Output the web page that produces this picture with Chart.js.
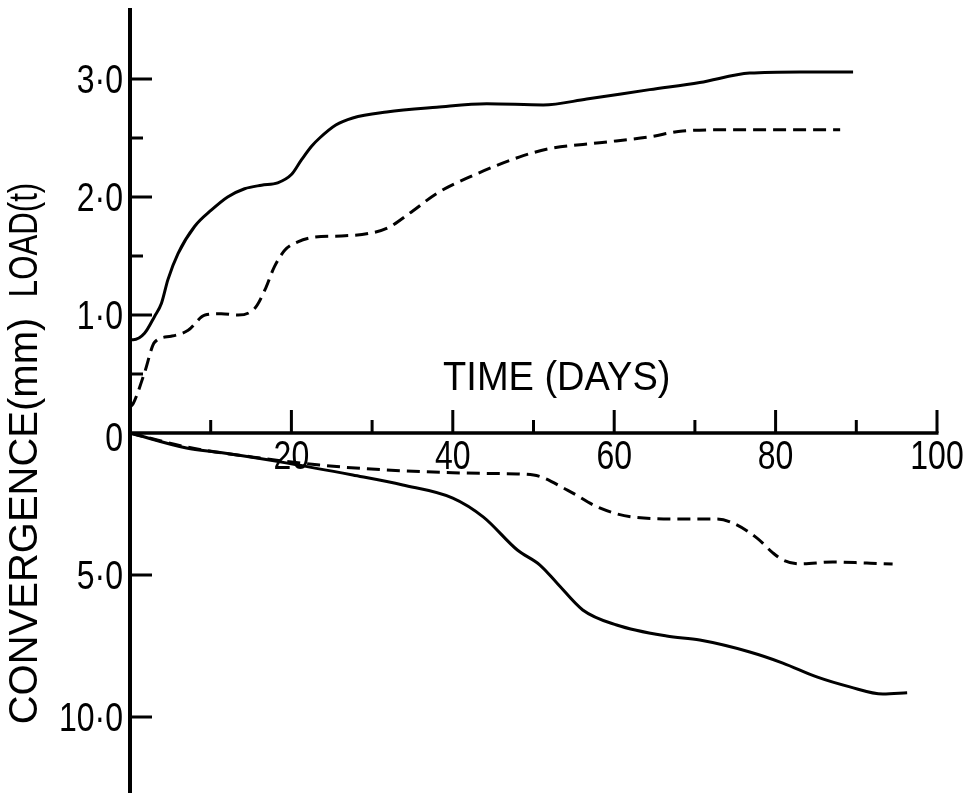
<!DOCTYPE html>
<html>
<head>
<meta charset="utf-8">
<script src="https://cdn.jsdelivr.net/npm/chart.js@4"></script>
<style>
html,body{margin:0;padding:0;background:#fff;}
canvas{display:block;}
</style>
</head>
<body>
<canvas id="c" width="971" height="793"></canvas>
<script>
// ---- data ----
const loadSolidDays = [0, 0.4, 1.8, 3.06, 3.9, 4.7, 5.95, 8.0, 10.1, 12.1, 14.2, 16.3, 18.3, 20.0, 21.2, 22.5, 23.5, 25.5, 27.6, 31.8, 38.0, 44.2, 51.2, 56.6, 64.4, 70.6, 76.8, 83.0, 89.6];
const loadSolid     = [0.79, 0.79, 0.845, 0.99, 1.10, 1.30, 1.52, 1.75, 1.89, 2.00, 2.07, 2.10, 2.12, 2.19, 2.31, 2.43, 2.50, 2.61, 2.67, 2.72, 2.76, 2.79, 2.78, 2.83, 2.91, 2.97, 3.05, 3.06, 3.06];

const loadDashedDays = [0, 0.4, 1.8, 3.06, 5.1, 7.2, 9.3, 11.3, 13.4, 15.5, 16.7, 17.9, 19.2, 20.8, 22.9, 26.2, 29.5, 32.0, 35.0, 38.0, 42.1, 48.3, 52.0, 58.2, 64.4, 68.5, 74.7, 88.0];
const loadDashed     = [0.22, 0.25, 0.51, 0.77, 0.82, 0.87, 1.00, 1.01, 1.00, 1.06, 1.21, 1.41, 1.55, 1.62, 1.66, 1.67, 1.69, 1.74, 1.88, 2.03, 2.17, 2.34, 2.41, 2.46, 2.51, 2.56, 2.57, 2.57];

const convSolidDays = [0, 7.0, 11.2, 19.5, 27.6, 33.8, 40.0, 43.8, 48.0, 50.8, 52.9, 56.1, 60.3, 66.5, 70.6, 76.8, 80.9, 85.1, 89.2, 93.3, 96.3];
const convSolid     = [0, 0.53, 0.69, 1.06, 1.48, 1.83, 2.29, 2.96, 4.12, 4.65, 5.28, 6.23, 6.76, 7.15, 7.29, 7.71, 8.10, 8.59, 8.94, 9.19, 9.15];

const convDashedDays = [0, 7.0, 15.3, 23.5, 31.8, 40.0, 46.0, 50.0, 54.2, 58.2, 62.3, 68.5, 72.7, 74.7, 77.7, 79.7, 80.9, 83.0, 87.1, 91.3, 94.5];
const convDashed     = [0, 0.49, 0.85, 1.13, 1.30, 1.40, 1.43, 1.48, 2.01, 2.64, 2.96, 3.03, 3.03, 3.17, 3.70, 4.23, 4.47, 4.61, 4.54, 4.58, 4.61];

// ---- ticks ----
const xTickValues   = [10, 20, 30, 40, 50, 60, 70, 80, 90, 100];
const xLabelValues  = [20, 40, 60, 80, 100];
const xTickLabels   = ['20', '40', '60', '80', '100'];
const loadTickValues = [0.5, 1, 1.5, 2, 2.5, 3];
const loadLabelValues = [1, 2, 3];
const loadTickLabels  = ['1·0', '2·0', '3·0'];
const convTickValues  = [5, 10];
const convTickLabels  = ['5·0', '10·0'];
const zeroLabel = '0';
const xTitle = 'TIME (DAYS)';
const loadTitle = 'LOAD(t)';
const convTitle = 'CONVERGENCE(mm)';

function pts(xs, ys) { return xs.map((x, i) => ({x: x, y: ys[i]})); }

const NUM_FONT = '40px "Liberation Sans", sans-serif';
const TITLE_FONT = '40px "Liberation Sans", sans-serif';
const NUM_SQUEEZE = 0.8;

function narrowText(ctx, text, x, y, align) {
  ctx.save();
  ctx.translate(x, y);
  ctx.scale(NUM_SQUEEZE, 1);
  ctx.textAlign = align;
  ctx.fillText(text, 0, 0);
  ctx.restore();
}

const axesPlugin = {
  id: 'handAxes',
  afterDatasetsDraw(chart) {
    const ctx = chart.ctx;
    const xs = chart.scales.x, yl = chart.scales.yLoad, yc = chart.scales.yConv;
    const ca = chart.chartArea;
    const x0 = xs.getPixelForValue(0);
    const y0 = yl.getPixelForValue(0);
    ctx.save();
    ctx.strokeStyle = '#000';
    ctx.fillStyle = '#000';
    ctx.lineCap = 'butt';
    // axes
    ctx.lineWidth = 4;
    ctx.beginPath();
    ctx.moveTo(x0, ca.top); ctx.lineTo(x0, ca.bottom);
    ctx.stroke();
    ctx.lineWidth = 3.5;
    ctx.beginPath();
    ctx.moveTo(x0, y0); ctx.lineTo(xs.getPixelForValue(100) + 1.5, y0);
    ctx.stroke();
    // ticks
    ctx.lineWidth = 3;
    ctx.beginPath();
    xTickValues.forEach(v => {
      const px = xs.getPixelForValue(v);
      const len = (v % 20 === 0) ? 23 : 13;
      ctx.moveTo(px, y0); ctx.lineTo(px, y0 - len);
    });
    loadTickValues.forEach(v => {
      const py = yl.getPixelForValue(v);
      const len = Number.isInteger(v) ? 22 : 13;
      ctx.moveTo(x0, py); ctx.lineTo(x0 + len, py);
    });
    convTickValues.forEach(v => {
      const py = yc.getPixelForValue(v);
      ctx.moveTo(x0, py); ctx.lineTo(x0 + 22, py);
    });
    ctx.stroke();
    // tick labels
    ctx.font = NUM_FONT;
    ctx.textBaseline = 'alphabetic';
    xLabelValues.forEach((v, i) => {
      narrowText(ctx, xTickLabels[i], xs.getPixelForValue(v), y0 + 36, 'center');
    });
    loadLabelValues.forEach((v, i) => {
      narrowText(ctx, loadTickLabels[i], x0 - 7, yl.getPixelForValue(v) + 14, 'right');
    });
    convTickValues.forEach((v, i) => {
      narrowText(ctx, convTickLabels[i], x0 - 7, yc.getPixelForValue(v) + 14, 'right');
    });
    narrowText(ctx, zeroLabel, x0 - 7, y0 + 18, 'right');
    // titles
    ctx.font = TITLE_FONT;
    ctx.textAlign = 'left';
    ctx.save();
    ctx.translate(xs.getPixelForValue(38.8), yl.getPixelForValue(0.364));
    ctx.scale(0.95, 1);
    ctx.fillText(xTitle, 0, 0);
    ctx.restore();
    ctx.save();
    ctx.translate(37, 0);
    ctx.rotate(-Math.PI / 2);
    ctx.textAlign = 'center';
    ctx.save();
    ctx.translate(-yl.getPixelForValue(1.636), 0);
    ctx.scale(0.78, 1);
    ctx.fillText(loadTitle, 0, 0);
    ctx.restore();
    ctx.fillText(convTitle, -yc.getPixelForValue(3.1), 0);
    ctx.restore();
    ctx.restore();
  }
};

const lineBase = {
  borderColor: '#000',
  borderWidth: 3,
  pointRadius: 0,
  fill: false,
  cubicInterpolationMode: 'monotone',
  clip: false
};

new Chart(document.getElementById('c'), {
  type: 'line',
  data: {
    datasets: [
      Object.assign({}, lineBase, {label: 'Load (solid)', data: pts(loadSolidDays, loadSolid), yAxisID: 'yLoad'}),
      Object.assign({}, lineBase, {label: 'Load (dashed)', data: pts(loadDashedDays, loadDashed), yAxisID: 'yLoad', borderDash: [13, 7]}),
      Object.assign({}, lineBase, {label: 'Convergence (solid)', data: pts(convSolidDays, convSolid), yAxisID: 'yConv'}),
      Object.assign({}, lineBase, {label: 'Convergence (dashed)', data: pts(convDashedDays, convDashed), yAxisID: 'yConv', borderDash: [13, 7]})
    ]
  },
  options: {
    responsive: false,
    animation: false,
    layout: {padding: {left: 130, right: 34, top: 8, bottom: 0}},
    plugins: {legend: {display: false}, tooltip: {enabled: false}},
    scales: {
      x: {type: 'linear', min: 0, max: 100, display: false},
      yLoad: {type: 'linear', position: 'left', min: -360 / 118, max: 425 / 118, display: false},
      yConv: {type: 'linear', position: 'left', reverse: true, min: -425 / 28.4, max: 360 / 28.4, display: false}
    }
  },
  plugins: [axesPlugin]
});
</script>
</body>
</html>
